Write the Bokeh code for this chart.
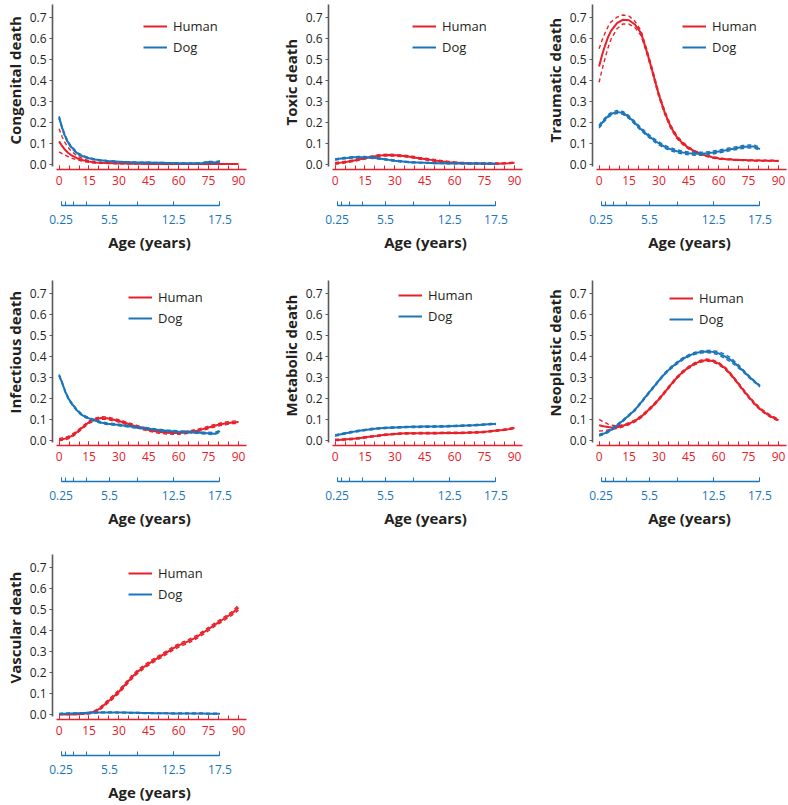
from bokeh.plotting import figure
from bokeh.models import (Range1d, LinearAxis, FixedTicker, Legend, LegendItem,
                          PrintfTickFormatter, Title)
from bokeh.layouts import column, row
from bokeh.embed import file_html
from bokeh.resources import INLINE

RED = "#e8202a"
BLUE = "#1b75bb"
DARK = "#231f20"
GREY = "#58595b"
FONT = "Open Sans"

# ---------------- data ----------------
human_x = [0, 1.5, 3, 4.5, 6, 9, 12, 15, 18, 21, 24, 27, 30, 33, 36, 39, 42, 45,
           48, 51, 54, 57, 60, 63, 66, 69, 72, 75, 78, 81, 84, 87, 90]
# dog ages placed on the human-equivalent age scale
dog_x = [0, 1.5, 3, 4.5, 6, 9, 12, 15, 18, 21, 24, 27, 30, 33, 36, 39, 42, 45,
         48, 51, 54, 57, 60, 63, 66, 69, 72, 75, 78, 80.7]

human_ticks = [0, 15, 30, 45, 60, 75, 90]
human_minor = [0, 5, 10, 15, 20, 25, 30, 35, 40, 45, 50, 55, 60, 65, 70, 75, 80, 85, 90]
dog_tick_pos = [1.0, 3.2, 7.0, 14.0, 25.3, 39.2, 57.5, 80.7]
dog_major_pos = [1.0, 25.3, 57.5, 80.7]
dog_major_labels = ["0.25", "5.5", "12.5", "17.5"]
y_ticks = [0.0, 0.1, 0.2, 0.3, 0.4, 0.5, 0.6, 0.7]

# Congenital
cong_h = [0.110,0.088,0.070,0.056,0.045,0.030,0.020,0.014,0.010,0.008,0.007,0.006,0.005,0.005,0.004,0.004,0.004,0.003,0.003,0.003,0.003,0.003,0.003,0.002,0.002,0.002,0.002,0.002,0.002,0.002,0.002,0.002,0.002]
cong_h_hi = [0.170,0.132,0.104,0.082,0.065,0.041,0.027,0.018,0.013,0.010,0.009,0.008,0.007,0.006,0.005,0.005,0.005,0.004,0.004,0.004,0.004,0.004,0.004,0.003,0.003,0.003,0.003,0.003,0.003,0.003,0.003,0.003,0.003]
cong_h_lo = [0.060,0.052,0.045,0.038,0.031,0.022,0.015,0.010,0.007,0.006,0.005,0.004,0.003,0.003,0.003,0.003,0.003,0.002,0.002,0.002,0.002,0.002,0.002,0.001,0.001,0.001,0.001,0.001,0.001,0.001,0.001,0.001,0.001]
cong_d = [0.225,0.175,0.135,0.105,0.085,0.054,0.039,0.030,0.024,0.020,0.017,0.015,0.013,0.012,0.011,0.010,0.009,0.009,0.008,0.008,0.007,0.007,0.006,0.006,0.006,0.006,0.007,0.012,0.010,0.014]
cong_d_hi = [0.230,0.180,0.140,0.110,0.089,0.058,0.042,0.033,0.026,0.022,0.019,0.017,0.015,0.014,0.013,0.012,0.011,0.011,0.010,0.010,0.009,0.009,0.008,0.008,0.008,0.008,0.009,0.016,0.013,0.017]
cong_d_lo = [0.220,0.170,0.130,0.100,0.081,0.050,0.036,0.027,0.022,0.018,0.015,0.013,0.011,0.010,0.009,0.008,0.007,0.007,0.006,0.006,0.005,0.005,0.004,0.004,0.004,0.004,0.005,0.007,0.007,0.010]

# Toxic
tox_h = [0.005,0.007,0.009,0.011,0.013,0.018,0.024,0.030,0.036,0.041,0.044,0.045,0.044,0.042,0.039,0.035,0.030,0.026,0.022,0.018,0.014,0.011,0.009,0.007,0.006,0.005,0.005,0.004,0.004,0.004,0.005,0.006,0.008]
tox_h_hi = [0.009,0.011,0.013,0.015,0.017,0.022,0.028,0.034,0.040,0.045,0.048,0.049,0.048,0.046,0.043,0.039,0.034,0.030,0.026,0.022,0.018,0.015,0.012,0.010,0.009,0.008,0.008,0.007,0.007,0.007,0.008,0.009,0.011]
tox_h_lo = [0.001,0.003,0.005,0.007,0.009,0.014,0.020,0.026,0.032,0.037,0.040,0.041,0.040,0.038,0.035,0.031,0.026,0.022,0.018,0.014,0.010,0.008,0.006,0.004,0.003,0.003,0.003,0.002,0.002,0.002,0.003,0.004,0.006]
tox_d = [0.024,0.026,0.028,0.030,0.031,0.034,0.035,0.035,0.033,0.030,0.026,0.022,0.018,0.015,0.012,0.010,0.009,0.008,0.007,0.006,0.006,0.005,0.005,0.005,0.005,0.005,0.005,0.005,0.004,0.004]
tox_d_hi = [0.027,0.029,0.031,0.033,0.034,0.037,0.038,0.038,0.036,0.033,0.029,0.025,0.021,0.018,0.015,0.013,0.011,0.010,0.009,0.008,0.008,0.007,0.007,0.007,0.007,0.007,0.007,0.007,0.006,0.006]
tox_d_lo = [0.021,0.023,0.025,0.027,0.028,0.031,0.032,0.032,0.030,0.027,0.023,0.019,0.015,0.012,0.010,0.008,0.007,0.006,0.005,0.004,0.004,0.003,0.003,0.003,0.003,0.003,0.003,0.003,0.002,0.002]

# Traumatic
trau_h = [0.465,0.520,0.565,0.605,0.635,0.672,0.688,0.685,0.665,0.625,0.535,0.435,0.330,0.245,0.178,0.130,0.100,0.078,0.062,0.050,0.041,0.034,0.029,0.026,0.024,0.022,0.021,0.020,0.019,0.019,0.018,0.018,0.017]
trau_h_hi = [0.550,0.590,0.625,0.655,0.677,0.700,0.710,0.705,0.680,0.636,0.545,0.445,0.340,0.254,0.186,0.137,0.106,0.083,0.066,0.054,0.044,0.037,0.032,0.028,0.026,0.024,0.023,0.022,0.021,0.021,0.020,0.020,0.019]
trau_h_lo = [0.390,0.450,0.505,0.555,0.595,0.645,0.668,0.667,0.650,0.614,0.525,0.425,0.320,0.236,0.170,0.123,0.094,0.073,0.058,0.046,0.038,0.031,0.026,0.024,0.022,0.020,0.019,0.018,0.017,0.017,0.016,0.016,0.015]
trau_d = [0.180,0.198,0.215,0.230,0.240,0.250,0.245,0.225,0.197,0.168,0.143,0.120,0.100,0.084,0.072,0.063,0.057,0.053,0.051,0.051,0.053,0.057,0.062,0.067,0.073,0.078,0.083,0.086,0.085,0.073]
trau_d_hi = [0.187,0.205,0.222,0.237,0.247,0.257,0.252,0.232,0.204,0.175,0.150,0.127,0.107,0.091,0.079,0.070,0.064,0.060,0.058,0.058,0.060,0.064,0.069,0.074,0.080,0.085,0.090,0.093,0.092,0.080]
trau_d_lo = [0.173,0.191,0.208,0.223,0.233,0.243,0.238,0.218,0.190,0.161,0.136,0.113,0.093,0.077,0.065,0.056,0.050,0.046,0.044,0.044,0.046,0.050,0.055,0.060,0.066,0.071,0.076,0.079,0.078,0.066]

# Infectious
inf_h = [0.004,0.006,0.009,0.014,0.020,0.040,0.064,0.087,0.100,0.107,0.106,0.100,0.093,0.084,0.075,0.066,0.058,0.050,0.044,0.040,0.037,0.036,0.036,0.038,0.041,0.047,0.054,0.062,0.070,0.077,0.082,0.086,0.088]
inf_h_hi = [0.010,0.012,0.015,0.020,0.026,0.046,0.070,0.093,0.106,0.113,0.112,0.106,0.099,0.090,0.081,0.072,0.064,0.056,0.050,0.046,0.043,0.042,0.042,0.044,0.047,0.053,0.060,0.068,0.076,0.083,0.088,0.092,0.094]
inf_h_lo = [0.000,0.001,0.003,0.008,0.014,0.034,0.058,0.081,0.094,0.101,0.100,0.094,0.087,0.078,0.069,0.060,0.052,0.044,0.038,0.034,0.031,0.030,0.030,0.032,0.035,0.041,0.048,0.056,0.064,0.071,0.076,0.080,0.082]
inf_d = [0.310,0.275,0.235,0.203,0.180,0.143,0.118,0.105,0.095,0.086,0.080,0.077,0.074,0.070,0.066,0.062,0.059,0.056,0.052,0.049,0.046,0.044,0.042,0.041,0.040,0.038,0.036,0.034,0.032,0.045]
inf_d_hi = [0.314,0.279,0.239,0.207,0.184,0.147,0.122,0.109,0.099,0.090,0.084,0.081,0.078,0.074,0.070,0.066,0.063,0.060,0.056,0.053,0.050,0.048,0.046,0.045,0.044,0.042,0.040,0.039,0.038,0.048]
inf_d_lo = [0.306,0.271,0.231,0.199,0.176,0.139,0.114,0.101,0.091,0.082,0.076,0.073,0.070,0.066,0.062,0.058,0.055,0.052,0.048,0.045,0.042,0.040,0.038,0.037,0.036,0.034,0.032,0.029,0.027,0.040]

# Metabolic
met_h = [0.003,0.003,0.004,0.005,0.006,0.008,0.011,0.015,0.019,0.022,0.026,0.029,0.031,0.033,0.034,0.034,0.035,0.035,0.035,0.035,0.036,0.036,0.036,0.036,0.037,0.038,0.039,0.041,0.044,0.047,0.050,0.054,0.060]
met_h_hi = [0.006,0.006,0.007,0.008,0.009,0.011,0.014,0.018,0.022,0.025,0.029,0.032,0.034,0.036,0.037,0.037,0.038,0.038,0.038,0.038,0.039,0.039,0.039,0.039,0.040,0.041,0.042,0.044,0.047,0.050,0.053,0.057,0.064]
met_h_lo = [0.000,0.000,0.001,0.002,0.003,0.005,0.008,0.012,0.016,0.019,0.023,0.026,0.028,0.030,0.031,0.031,0.032,0.032,0.032,0.032,0.033,0.033,0.033,0.033,0.034,0.035,0.036,0.038,0.041,0.044,0.047,0.051,0.056]
met_d = [0.024,0.027,0.030,0.033,0.036,0.041,0.046,0.050,0.054,0.057,0.059,0.061,0.062,0.063,0.064,0.065,0.065,0.066,0.066,0.067,0.067,0.068,0.069,0.070,0.071,0.072,0.074,0.076,0.078,0.079]
met_d_hi = [0.027,0.030,0.033,0.036,0.039,0.044,0.049,0.053,0.057,0.060,0.062,0.064,0.065,0.066,0.067,0.068,0.068,0.069,0.069,0.070,0.070,0.071,0.072,0.073,0.074,0.075,0.077,0.079,0.081,0.082]
met_d_lo = [0.021,0.024,0.027,0.030,0.033,0.038,0.043,0.047,0.051,0.054,0.056,0.058,0.059,0.060,0.061,0.062,0.062,0.063,0.063,0.064,0.064,0.065,0.066,0.067,0.068,0.069,0.071,0.073,0.075,0.076]

# Neoplastic
neo_h = [0.072,0.069,0.066,0.064,0.062,0.063,0.070,0.080,0.093,0.112,0.138,0.165,0.196,0.230,0.265,0.298,0.326,0.348,0.365,0.377,0.382,0.378,0.365,0.345,0.315,0.280,0.243,0.208,0.175,0.148,0.127,0.110,0.097]
neo_h_hi = [0.100,0.092,0.085,0.078,0.073,0.069,0.075,0.085,0.098,0.117,0.143,0.170,0.201,0.235,0.270,0.303,0.331,0.353,0.370,0.382,0.387,0.383,0.370,0.350,0.320,0.285,0.248,0.213,0.180,0.153,0.132,0.115,0.102]
neo_h_lo = [0.045,0.046,0.048,0.050,0.053,0.057,0.065,0.075,0.088,0.107,0.133,0.160,0.191,0.225,0.260,0.293,0.321,0.343,0.360,0.372,0.377,0.373,0.360,0.340,0.310,0.275,0.238,0.203,0.170,0.143,0.122,0.105,0.092]
neo_d = [0.025,0.030,0.035,0.042,0.050,0.072,0.095,0.120,0.145,0.180,0.215,0.250,0.285,0.318,0.345,0.368,0.388,0.403,0.414,0.420,0.423,0.421,0.414,0.400,0.383,0.360,0.333,0.305,0.280,0.258]
neo_d_hi = [0.029,0.034,0.039,0.046,0.054,0.076,0.099,0.124,0.149,0.184,0.219,0.254,0.289,0.322,0.350,0.373,0.393,0.408,0.419,0.425,0.428,0.427,0.422,0.410,0.393,0.368,0.339,0.310,0.284,0.262]
neo_d_lo = [0.021,0.026,0.031,0.038,0.046,0.068,0.091,0.116,0.141,0.176,0.211,0.246,0.281,0.314,0.340,0.363,0.383,0.398,0.409,0.415,0.418,0.415,0.406,0.390,0.373,0.352,0.327,0.300,0.276,0.254]

# Vascular
vas_h = [0.000,0.000,0.000,0.000,0.000,0.001,0.003,0.006,0.014,0.032,0.057,0.082,0.108,0.140,0.172,0.200,0.222,0.242,0.260,0.277,0.295,0.313,0.328,0.340,0.353,0.368,0.387,0.406,0.426,0.444,0.463,0.482,0.508]
vas_h_hi = [0.002,0.002,0.002,0.002,0.002,0.003,0.006,0.010,0.019,0.038,0.064,0.090,0.116,0.148,0.180,0.208,0.230,0.250,0.268,0.285,0.303,0.321,0.336,0.348,0.361,0.376,0.395,0.414,0.434,0.452,0.471,0.491,0.520]
vas_h_lo = [0.000,0.000,0.000,0.000,0.000,0.000,0.001,0.003,0.009,0.026,0.050,0.074,0.100,0.132,0.164,0.192,0.214,0.234,0.252,0.269,0.287,0.305,0.320,0.332,0.345,0.360,0.379,0.398,0.418,0.436,0.455,0.473,0.496]
vas_d = [0.003,0.004,0.004,0.005,0.005,0.006,0.007,0.008,0.009,0.010,0.010,0.010,0.009,0.009,0.008,0.008,0.007,0.007,0.006,0.006,0.006,0.005,0.005,0.005,0.005,0.005,0.005,0.004,0.004,0.004]
vas_d_hi = [0.005,0.006,0.006,0.007,0.007,0.008,0.009,0.010,0.011,0.012,0.012,0.012,0.011,0.011,0.010,0.010,0.009,0.009,0.008,0.008,0.008,0.007,0.007,0.007,0.007,0.007,0.007,0.006,0.006,0.006]
vas_d_lo = [0.001,0.002,0.002,0.003,0.003,0.004,0.005,0.006,0.007,0.008,0.008,0.008,0.007,0.007,0.006,0.006,0.005,0.005,0.004,0.004,0.004,0.003,0.003,0.003,0.003,0.003,0.003,0.002,0.002,0.002]

panel_titles = ["Congenital death", "Toxic death", "Traumatic death",
                "Infectious death", "Metabolic death", "Neoplastic death",
                "Vascular death"]
panel_series = [
    (cong_h, cong_h_lo, cong_h_hi, cong_d, cong_d_lo, cong_d_hi),
    (tox_h, tox_h_lo, tox_h_hi, tox_d, tox_d_lo, tox_d_hi),
    (trau_h, trau_h_lo, trau_h_hi, trau_d, trau_d_lo, trau_d_hi),
    (inf_h, inf_h_lo, inf_h_hi, inf_d, inf_d_lo, inf_d_hi),
    (met_h, met_h_lo, met_h_hi, met_d, met_d_lo, met_d_hi),
    (neo_h, neo_h_lo, neo_h_hi, neo_d, neo_d_lo, neo_d_hi),
    (vas_h, vas_h_lo, vas_h_hi, vas_d, vas_d_lo, vas_d_hi),
]

# ---------------- layout / style ----------------
X0, X1 = -3.3, 94.0
Y0, Y1 = -0.0237, 0.76
FRAME_W, FRAME_H = 194, 165
LEFT = 52
TOP = 4
RIGHT_BORDER = [30, 18, 1]          # per column
BOTTOM_BORDER = [107, 105, 85]      # per row
LEGEND_POS = [(91, 113), (84, 113), (90, 113),
              (76, 118), (70, 120), (77, 117),
              (76, 116)]
TITLE_OFFSET = [25, 44, 27, 32, 29, 29, 36]   # px from frame bottom to title start


def make_panel(idx):
    title = panel_titles[idx]
    hm, hlo, hhi, dm, dlo, dhi = panel_series[idx]
    col, rw = idx % 3, idx // 3
    p = figure(frame_width=FRAME_W, frame_height=FRAME_H,
               min_border_left=LEFT, min_border_right=RIGHT_BORDER[col],
               min_border_top=TOP, min_border_bottom=BOTTOM_BORDER[rw],
               x_range=Range1d(X0, X1), y_range=Range1d(Y0, Y1),
               x_axis_location=None, output_backend="svg", toolbar_location=None)
    p.outline_line_color = None
    p.xgrid.visible = False
    p.ygrid.visible = False
    p.background_fill_color = "white"
    p.border_fill_color = "white"

    yax = p.yaxis[0]
    yax.ticker = FixedTicker(ticks=y_ticks)
    yax.formatter = PrintfTickFormatter(format="%.1f")
    yax.bounds = (-0.008, Y1)
    yax.axis_line_color = GREY
    yax.axis_line_width = 1.6
    yax.major_tick_line_color = GREY
    yax.major_tick_out = 3
    yax.major_tick_in = 0
    yax.minor_tick_line_color = None
    yax.major_label_text_font = FONT
    yax.major_label_text_font_size = "12px"
    yax.major_label_text_color = DARK
    yax.major_label_standoff = 3

    # y-axis title in the left panel, outside the axis
    p.add_layout(Title(text=title, align="left", offset=TITLE_OFFSET[idx],
                       vertical_align="top", standoff=0,
                       text_font=FONT, text_font_style="bold",
                       text_font_size="15px", text_color=DARK), "left")

    hax = LinearAxis(ticker=FixedTicker(ticks=human_ticks, minor_ticks=human_minor),
                     bounds=(-1.5, X1))
    hax.axis_line_color = RED
    hax.axis_line_width = 1.5
    hax.major_tick_line_color = RED
    hax.minor_tick_line_color = RED
    hax.major_tick_in = 4
    hax.major_tick_out = 0
    hax.minor_tick_in = 4
    hax.minor_tick_out = 0
    hax.major_label_text_color = RED
    hax.major_label_text_font = FONT
    hax.major_label_text_font_size = "12px"
    hax.major_label_standoff = 6
    hax.axis_label = " "
    hax.axis_label_text_font_size = "8px"
    hax.axis_label_standoff = 6
    p.add_layout(hax, "below")

    dax = LinearAxis(ticker=FixedTicker(ticks=dog_major_pos, minor_ticks=dog_tick_pos),
                     bounds=(dog_tick_pos[0], dog_tick_pos[-1]))
    dax.major_label_overrides = dict(zip(dog_major_pos, dog_major_labels))
    dax.axis_line_color = BLUE
    dax.axis_line_width = 1.5
    dax.major_tick_line_color = BLUE
    dax.minor_tick_line_color = BLUE
    dax.major_tick_in = 4
    dax.major_tick_out = 0
    dax.minor_tick_in = 4
    dax.minor_tick_out = 0
    dax.major_label_text_color = BLUE
    dax.major_label_text_font = FONT
    dax.major_label_text_font_size = "12px"
    dax.major_label_standoff = 9
    dax.axis_label = "Age (years)"
    dax.axis_label_text_font = FONT
    dax.axis_label_text_font_style = "bold"
    dax.axis_label_text_font_size = "15px"
    dax.axis_label_text_color = DARK
    dax.axis_label_standoff = 5
    p.add_layout(dax, "below")

    dash = "4 3"
    p.line(human_x, hlo, line_color=RED, line_width=1.4, line_dash=dash)
    p.line(human_x, hhi, line_color=RED, line_width=1.4, line_dash=dash)
    rh = p.line(human_x, hm, line_color=RED, line_width=2)
    p.line(dog_x, dlo, line_color=BLUE, line_width=1.4, line_dash=dash)
    p.line(dog_x, dhi, line_color=BLUE, line_width=1.4, line_dash=dash)
    rd = p.line(dog_x, dm, line_color=BLUE, line_width=2)

    legend = Legend(items=[LegendItem(label="Human", renderers=[rh]),
                           LegendItem(label="Dog", renderers=[rd])],
                    location=LEGEND_POS[idx])
    legend.margin = 0
    legend.padding = 0
    legend.spacing = 3
    legend.glyph_width = 24
    legend.glyph_height = 16
    legend.label_height = 16
    legend.label_standoff = 6
    legend.label_text_font = FONT
    legend.label_text_font_size = "13px"
    legend.label_text_color = DARK
    legend.border_line_color = None
    legend.background_fill_alpha = 0
    p.add_layout(legend)
    return p


panels = [make_panel(i) for i in range(len(panel_titles))]
layout = column(row(panels[0], panels[1], panels[2]),
                row(panels[3], panels[4], panels[5]),
                row(panels[6]))

html = file_html(layout, INLINE, title="Causes of death: human vs dog")
open("out.html", "w").write(html)
